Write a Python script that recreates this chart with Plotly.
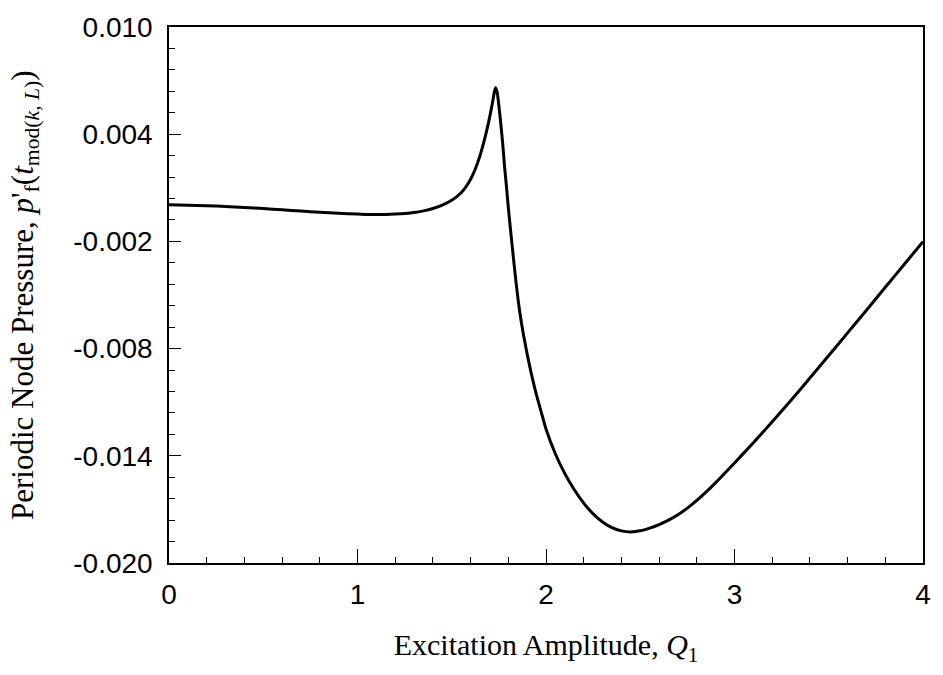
import plotly.graph_objects as go

# Data
q1 = [0.0, 0.1, 0.2, 0.3, 0.4, 0.5, 0.6, 0.7, 0.8, 0.9, 1.0, 1.1, 1.2, 1.3, 1.35, 1.4,
      1.45, 1.5, 1.55, 1.575, 1.6, 1.625, 1.65, 1.675, 1.70, 1.715, 1.725, 1.732, 1.74, 1.75,
      1.76, 1.77, 1.78, 1.79, 1.80, 1.82, 1.84, 1.86, 1.88, 1.90, 1.92, 1.94, 1.96, 1.98,
      2.0, 2.05, 2.1, 2.15, 2.2, 2.25, 2.3, 2.35, 2.4, 2.45, 2.5, 2.55, 2.6, 2.65, 2.7,
      2.75, 2.8, 2.85, 2.9, 3.0, 3.1, 3.2, 3.3, 3.4, 3.5, 3.6, 3.7, 3.8, 3.9, 4.0]
pressure = [0.00005, 0.00003, 0.0, -0.00005, -0.0001, -0.00016, -0.00023, -0.0003,
            -0.00037, -0.00043, -0.00047, -0.0005, -0.00047, -0.00038, -0.00029, -0.00016,
            0.00003, 0.0003, 0.00072, 0.00105, 0.00148, 0.00205, 0.0028, 0.00375, 0.0049, 0.0057,
            0.0063, 0.0066, 0.0064, 0.0056, 0.0046, 0.0035, 0.0022, 0.0011, -0.0001,
            -0.0022, -0.0042, -0.0059, -0.0072, -0.0083, -0.0093, -0.0102, -0.0110, -0.01175,
            -0.0125, -0.0139, -0.0150, -0.0159, -0.01665, -0.01725, -0.0177, -0.01802,
            -0.0182, -0.01826, -0.0182, -0.01805, -0.01785, -0.0176, -0.0173,
            -0.01693, -0.0165, -0.01602, -0.0155, -0.0144, -0.01327, -0.0121, -0.01089,
            -0.00965, -0.00839, -0.00712, -0.00585, -0.00457, -0.00329, -0.00201]

y_tick_vals = [-0.020, -0.014, -0.008, -0.002, 0.004, 0.010]
y_tick_text = ["-0.020", "-0.014", "-0.008", "-0.002", "0.004", "0.010"]
x_tick_vals = [0, 1, 2, 3, 4]
x_tick_text = ["0", "1", "2", "3", "4"]

fig = go.Figure()
fig.add_trace(go.Scatter(
    x=q1, y=pressure, mode="lines",
    line=dict(color="black", width=3, shape="spline", smoothing=0.6),
    showlegend=False, hoverinfo="skip"))

fig.update_layout(
    width=943, height=675,
    margin=dict(l=169, r=15, t=20, b=112),
    paper_bgcolor="white", plot_bgcolor="white",
    font=dict(family="Liberation Sans, Arial, sans-serif", color="black", size=28),
)

fig.add_annotation(
    text="Periodic Node Pressure, <i>p</i>'<sub>f</sub>(<i>t</i><sub>mod(<i>k</i>, <i>L</i>)</sub>)",
    xref="paper", yref="paper", x=-0.191, y=0.5, xanchor="center", yanchor="middle",
    textangle=-90, showarrow=False,
    font=dict(family="Liberation Serif, Times New Roman, serif", size=31, color="black"),
)

fig.update_xaxes(
    range=[0, 4], tickvals=x_tick_vals, ticktext=x_tick_text,
    ticks="inside", ticklen=14, tickwidth=1.2, tickcolor="black",
    minor=dict(ticks="inside", ticklen=6, tickwidth=1, tickcolor="black", dtick=0.2, showgrid=False),
    showline=True, linecolor="black", linewidth=1.5, mirror=True,
    showgrid=False, zeroline=False, ticklabelstandoff=6,
    tickfont=dict(family="Liberation Sans, Arial, sans-serif", size=28),
    title=dict(text="Excitation Amplitude, <i>Q</i><sub>1</sub>",
               font=dict(family="Liberation Serif, Times New Roman, serif", size=30),
               standoff=25),
)
fig.update_yaxes(
    range=[-0.020, 0.010], tickvals=y_tick_vals, ticktext=y_tick_text,
    ticks="inside", ticklen=12, tickwidth=1.2, tickcolor="black",
    minor=dict(ticks="inside", ticklen=6, tickwidth=1, tickcolor="black",
               tickvals=[-0.020 + 0.0012 * i for i in range(26)], showgrid=False),
    showline=True, linecolor="black", linewidth=1.5, mirror=True,
    showgrid=False, zeroline=False, ticklabelstandoff=9,
    tickfont=dict(family="Liberation Sans, Arial, sans-serif", size=28),
)

fig.write_html("out.html")
